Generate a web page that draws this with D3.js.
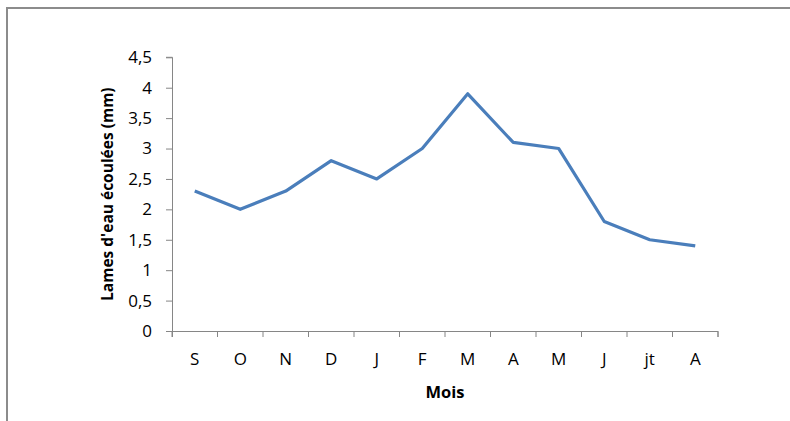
<!DOCTYPE html>
<html><head><meta charset="utf-8">
<script src="https://cdn.jsdelivr.net/npm/d3@7"></script>
<style>
html,body{margin:0;padding:0;background:#fff;}
svg{display:block;}
</style></head>
<body>
<svg id="chart" width="790" height="421"></svg>
<script>
const months = ["S","O","N","D","J","F","M","A","M","J","jt","A"];
const values = [2.3, 2.0, 2.3, 2.8, 2.5, 3.0, 3.9, 3.1, 3.0, 1.8, 1.5, 1.4];
const yTicks = [0, 0.5, 1, 1.5, 2, 2.5, 3, 3.5, 4, 4.5];
const yTitle = "Lames d'eau écoulées (mm)";
const xTitle = "Mois";

(function () {
const svg = d3.select("#chart");
const font = "'Open Sans', 'Noto Sans', sans-serif";
const axisColor = "#868686";

// outer frame
svg.append("rect").attr("x", 7).attr("y", 8).attr("width", 800).attr("height", 430)
  .attr("fill", "none").attr("stroke", "#8c8c8c").attr("stroke-width", 2);

const pLeft = 172, pRight = 718, pTop = 57.3, pBottom = 331;
const x = d3.scaleBand().domain(d3.range(months.length)).range([pLeft, pRight]).padding(0);
const y = d3.scaleLinear().domain([0, 4.5]).range([pBottom, pTop]);

// y axis
const yAxis = svg.append("g").attr("transform", `translate(${pLeft},0)`)
  .call(d3.axisLeft(y).tickValues(yTicks).tickSize(6).tickPadding(14)
    .tickFormat(d => String(d).replace(".", ",")));
yAxis.select(".domain").attr("stroke", axisColor).attr("d", `M-6,${pTop}H0.5V${pBottom + 6}`);
yAxis.selectAll(".tick line").attr("stroke", axisColor);
yAxis.selectAll("text").attr("font-family", font).attr("font-size", 17).attr("fill", "#000");

// x axis
const xAxis = svg.append("g").attr("transform", `translate(0,${pBottom})`)
  .call(d3.axisBottom(x).tickFormat(i => months[i]).tickSize(0).tickPadding(22));
xAxis.select(".domain").attr("stroke", axisColor).attr("d", `M${pLeft},0.5H${pRight}V6`);
xAxis.selectAll("text").attr("font-family", font).attr("font-size", 17).attr("fill", "#000");
xAxis.selectAll(".bt").data(d3.range(months.length + 1)).join("line")
  .attr("class", "bt")
  .attr("x1", i => i < months.length ? x(i) : pRight)
  .attr("x2", i => i < months.length ? x(i) : pRight)
  .attr("y1", 0).attr("y2", 6).attr("stroke", axisColor);

// line
const line = d3.line().x((d, i) => x(i) + x.bandwidth() / 2).y(d => y(d));
svg.append("path").datum(values).attr("d", line)
  .attr("fill", "none").attr("stroke", "#4a7ebb").attr("stroke-width", 3.2)
  .attr("stroke-linejoin", "round");

// titles
svg.append("text").attr("transform", `translate(113,${(pTop + pBottom) / 2}) rotate(-90)`)
  .attr("text-anchor", "middle").attr("font-family", font).attr("font-weight", "bold")
  .attr("font-size", 15.5).text(yTitle);
svg.append("text").attr("x", (pLeft + pRight) / 2).attr("y", 398)
  .attr("text-anchor", "middle").attr("font-family", font).attr("font-weight", "bold")
  .attr("font-size", 16.5).text(xTitle);
})();
</script>
</body></html>
